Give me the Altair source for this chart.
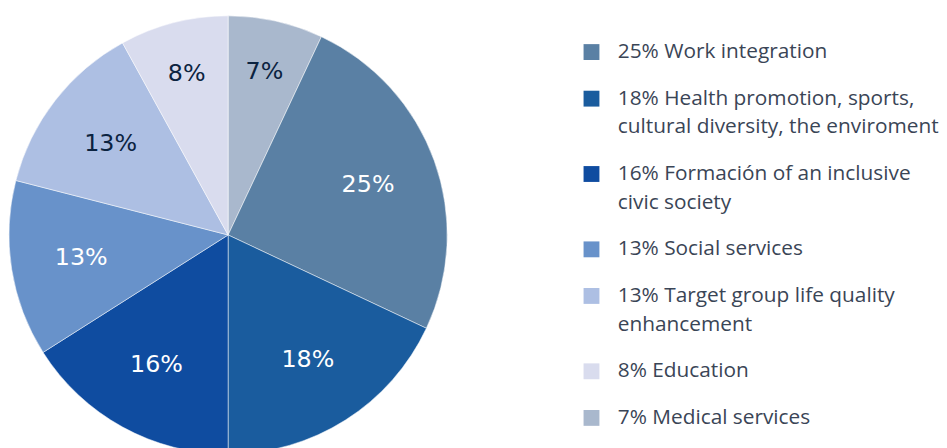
import altair as alt
import pandas as pd

# Slices in drawing order, clockwise from 12 o'clock
names = [
    "Medical services",
    "Work integration",
    "Health promotion, sports,|cultural diversity, the enviroment",
    "Formación of an inclusive|civic society",
    "Social services",
    "Target group life quality|enhancement",
    "Education",
]
shares = [7, 25, 18, 16, 13, 13, 8]

# Legend order
legend_names = [
    "Work integration",
    "Health promotion, sports,|cultural diversity, the enviroment",
    "Formación of an inclusive|civic society",
    "Social services",
    "Target group life quality|enhancement",
    "Education",
    "Medical services",
]
legend_colors = ["#5A80A4", "#1A5C9E", "#0F4CA0", "#6892CA", "#ADBFE3", "#D9DCEE", "#A9B8CD"]
text_colors = ["#FFFFFF", "#FFFFFF", "#FFFFFF", "#FFFFFF", "#0B2340", "#0B2340", "#0B2340"]

share_of = dict(zip(names, shares))
legend_labels = [f"{share_of[n]}% {n}" for n in legend_names]

df = pd.DataFrame({"name": names, "share": shares})

LEGEND_FONT = "Open Sans"
PIE_FONT = "DejaVu Sans"
theta_scale = alt.Scale(domain=[0, 100])

base = alt.Chart(df).transform_window(
    idx="row_number()"
).transform_stack(
    stack="share", as_=["s0", "s1"], groupby=[], sort=[alt.SortField("idx", order="ascending")]
).transform_calculate(
    legend_label="datum.share + '% ' + datum.name",
    pct="datum.share + '%'",
    mid="(datum.s0 + datum.s1) / 2",
)

pie = base.mark_arc(radius=221, stroke="#FFFFFF", strokeWidth=0.5).encode(
    theta=alt.Theta("s0:Q", scale=theta_scale),
    theta2="s1:Q",
    color=alt.Color(
        "legend_label:N",
        scale=alt.Scale(domain=legend_labels, range=legend_colors),
        legend=alt.Legend(
            title=None,
            orient="none",
            legendX=577,
            legendY=26,
            symbolType="square",
            symbolSize=256,
            symbolStrokeWidth=0,
            labelFont=LEGEND_FONT,
            labelFontSize=21,
            labelColor="#3A4556",
            labelOffset=16,
            labelLimit=500,
            labelBaseline="middle",
            rowPadding=25,
            labelExpr="split(datum.label, '|')",
        ),
    ),
)

text_enc = dict(
    theta=alt.Theta("mid:Q", scale=theta_scale),
    text="pct:N",
    color=alt.Color(
        "legend_label:N",
        scale=alt.Scale(domain=legend_labels, range=text_colors),
        legend=None,
    ),
)

labels_big = base.transform_filter("datum.share >= 10").mark_text(
    radius=150, font=PIE_FONT, fontSize=24, baseline="middle"
).encode(**text_enc)

labels_small = base.transform_filter("datum.share < 10").mark_text(
    radius=168, font=PIE_FONT, fontSize=24, baseline="middle"
).encode(**text_enc)

chart = alt.layer(pie, labels_big, labels_small).resolve_scale(
    color="independent"
).properties(
    width=442,
    height=442,
    padding={"left": 0, "top": 5, "right": 0, "bottom": 0},
    background="#FFFFFF",
).configure_view(stroke=None).configure(
    style={"guide-label": {"lineHeight": 29}}
)

chart.save("out.html", embed_options={"renderer": "svg", "actions": False})
